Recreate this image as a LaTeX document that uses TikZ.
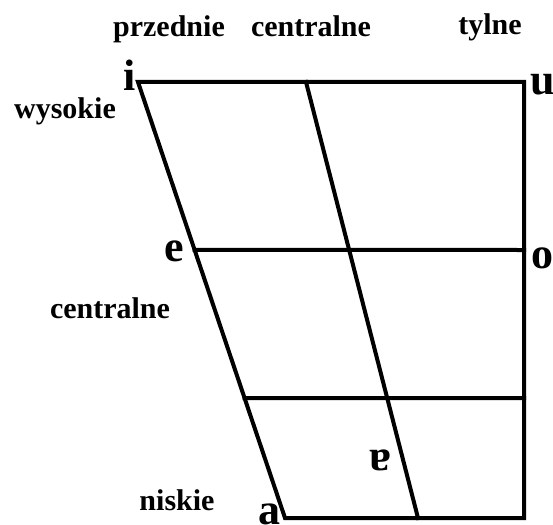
\documentclass[tikz,border=0pt]{standalone}
\usepackage{fontspec}
\setmainfont{Liberation Serif}
\usepackage{tikz}
\usetikzlibrary{calc, positioning}
\definecolor{lineBlack}{HTML}{000000}
\definecolor{textBlack}{HTML}{000000}

\begin{document}
\begin{tikzpicture}[x=1pt, y=-1pt,
    gridLine/.style={draw=lineBlack, line width=4pt, line cap=rect},
    headLabel/.style={text=textBlack, font=\bfseries\fontsize{30}{32}\selectfont, inner sep=0pt, anchor=base},
    vowelLabel/.style={text=textBlack, font=\bfseries\fontsize{44}{46}\selectfont, inner sep=0pt}]
  \useasboundingbox (0,0) rectangle (553,524);
  % corners of the chart
  \coordinate (frontHigh) at (138,82);
  \coordinate (backHigh) at (524,82);
  \coordinate (frontLow) at (285,518);
  \coordinate (backLow) at (524,518);
  \coordinate (midHigh) at (306,82);
  \coordinate (midLow) at (418,518);
  \coordinate (frontMid) at ($(frontHigh)!0.385!(frontLow)$);
  \coordinate (backMid) at (524,250);
  \coordinate (frontLowMid) at ($(frontHigh)!0.725!(frontLow)$);
  \coordinate (backLowMid) at (524,398);
  % outline and grid
  \draw[gridLine] (frontLow) -- (frontHigh) -- (backHigh) -- (backLow) -- cycle;
  \draw[gridLine] (midHigh) -- (midLow);
  \draw[gridLine] (frontMid) -- (backMid);
  \draw[gridLine] (frontLowMid) -- (backLowMid);
  % column and row labels
  \node[headLabel] (front) at (169,37) {przednie};
  \node[headLabel] (central) at (311,37) {centralne};
  \node[headLabel] (back) at (490,35) {tylne};
  \node[headLabel] (high) at (65,118) {wysokie};
  \node[headLabel] (mid) at (110,318) {centralne};
  \node[headLabel] (low) at (177,510) {niskie};
  % vowels
  \node[vowelLabel, anchor=base east] (vowelI) at (136,91) {i};
  \node[vowelLabel, anchor=base west] (vowelU) at (530,95) {u};
  \node[vowelLabel, anchor=base east] (vowelE) at (184,261) {e};
  \node[vowelLabel, anchor=base west] (vowelO) at (531,268) {o};
  \node[vowelLabel] (vowelTurnedA) at (380,460) {ɐ};
  \node[vowelLabel, anchor=base east] (vowelA) at (281,524) {a};
\end{tikzpicture}
\end{document}
